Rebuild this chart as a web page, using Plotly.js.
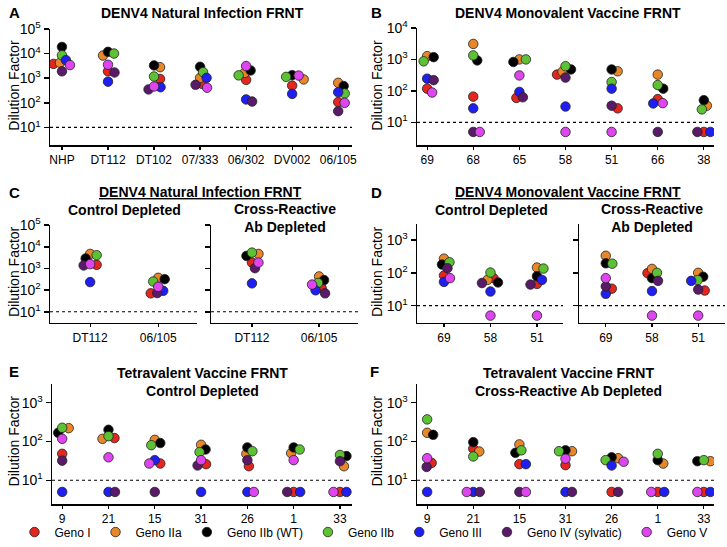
<!DOCTYPE html>
<html><head><meta charset="utf-8">
<script src="https://cdn.plot.ly/plotly-3.0.1.min.js"></script>
<style>html,body{margin:0;padding:0;background:#fff}</style>
</head><body><div id="chart" style="width:727px;height:547px"></div>
<script>
// ---------- DATA ----------
const genotypes = ['Geno I','Geno IIa','Geno IIb (WT)','Geno IIb','Geno III','Geno IV (sylvatic)','Geno V'];

const catsA = ['NHP','DT112','DT102','07/333','06/302','DV002','06/105'];
const valsA = [
  [3800, 1900, 930, 590, 850, 500, 107],
  [4200, 8300, 2800, 1030, 1650, 890, 650],
  [18600, 11700, 3300, 2900, 2050, 1330, 480],
  [8500, 10000, 1170, 1750, 1300, 1130, 240],
  [5400, 720, 430, 1030, 137, 230, 270],
  [1900, 1700, 350, 540, 113, null, 46],
  [3400, 3500, 460, 410, 3100, 1280, 100]
];

const catsB = ['69','68','65','58','51','66','38'];
const valsB = [
  [118, 66, 60, 330, 28, 55, 5],
  [1270, 3100, 1000, 410, 420, 330, 34],
  [1180, 930, 830, 480, 480, 118, 51],
  [870, 1340, 1000, 610, 192, 154, 26],
  [245, 28, 93, 32, 118, 40, 5],
  [220, 5, 63, 265, 34, 5, 5],
  [89, 5, 310, 5, 5, 41, null]
];

const catsC = ['DT112','06/105'];
const valsCControl = [
  [1480, 71], [4700, 370], [2900, 320], [4100, 250], [235, 93], [1380, 73], [1590, 142]
];
const valsCCross = [
  [1870, 125], [4700, 430], [3800, 290], [5400, 215], [205, 98], [1030, 71], [1870, 180]
];

const catsD = ['69','58','51'];
const valsDControl = [
  [83, 69, 46], [270, 61, 145], [178, 51, 79], [210, 102, 135], [53, 27, 61], [138, 49, 44], [69, 5, 5]
];
const valsDCross = [
  [33, 98, 29], [330, 132, 100], [195, 69, 76], [190, 100, 60], [23, 28, 57], [39, 57, 31], [69, 5, 5]
];

const catsE = ['9','21','15','31','26','1','33'];
const valsE = [
  [48, 122, 27, 26, 23, 5, 5],
  [220, 117, 110, 82, 48, 50, 23],
  [167, 200, 91, 62, 70, 70, 42],
  [225, 137, 80, 53, 56, 62, 45],
  [5, 5, 33, 5, 5, 5, 5],
  [32, 5, 5, 24, 33, 5, 31],
  [117, 39, 27, 33, 5, 33, 5]
];

const catsF = ['9','21','15','31','26','1','33'];
const valsF = [
  [28, 65, 26, 24.5, 5, 5, 5],
  [167, 55, 84, 56, 37, 27, 31],
  [148, 96, 51, 59, 39, 33, 31],
  [370, 41, 59, 56, 33, 48, 33],
  [5, 5, 26, 5, 24, 5, 5],
  [22, 5, 5, 5, 5, null, null],
  [37, 5, 5, 36, 30, 5, 5]
];

const detectionLimit = 10;

// ---------- STYLE / LAYOUT ----------
const genoColors = ['#E3261E','#E8872A','#000000','#5CC234','#1F1FF2','#5A1A6A','#DF45EE'];
const W = 727, H = 547;
const FONT = 'Liberation Sans, Arial, Helvetica, sans-serif';

const panels = [
  {cats:catsA, vals:valsA, px:[50,352], py:[29,146], xr:[-0.26,6.3], yr:[0.27,5], dec:[1,2,3,4,5], lab:true},
  {cats:catsB, vals:valsB, px:[417,714], py:[28,146], xr:[-0.22,6.22], yr:[0.27,4], dec:[1,2,3,4], lab:true},
  {cats:catsC, vals:valsCControl, px:[50,197], py:[226,324], xr:[-0.59,1.57], yr:[0.49,5], dec:[1,2,3,4,5], lab:true},
  {cats:catsC, vals:valsCCross, px:[211,358], py:[226,324], xr:[-0.61,1.58], yr:[0.49,5], dec:[1,2,3,4,5], lab:false},
  {cats:catsD, vals:valsDControl, px:[417,563], py:[225,324], xr:[-0.58,2.56], yr:[0.48,3.48], dec:[1,2,3], lab:true},
  {cats:catsD, vals:valsDCross, px:[579,725], py:[225,324], xr:[-0.58,2.58], yr:[0.48,3.48], dec:[1,2,3], lab:false},
  {cats:catsE, vals:valsE, px:[52,352], py:[385,506], xr:[-0.22,6.26], yr:[0.385,3.49], dec:[1,2,3], lab:true},
  {cats:catsF, vals:valsF, px:[417,714], py:[385,506], xr:[-0.22,6.22], yr:[0.385,3.49], dec:[1,2,3], lab:true}
];

// beeswarm-style horizontal spreading (in pixel space, converted to category units)
function swarm(p, minDist) {
  const wpx = p.px[1]-p.px[0], hpx = p.py[1]-p.py[0];
  const pxPerCat = wpx/(p.xr[1]-p.xr[0]);
  const pxPerDec = hpx/(p.yr[1]-p.yr[0]);
  const off = p.vals.map(r => r.map(() => 0));
  const nC = p.cats.length;
  for (let c = 0; c < nC; c++) {
    const pts = [];
    p.vals.forEach((row, g) => { if (row[c] != null) pts.push({g, y: Math.log10(row[c])*pxPerDec}); });
    pts.sort((a,b) => b.y - a.y);
    const placed = [];
    for (const pt of pts) {
      let dx = 0;
      for (let k = 0; k < 400; k++) {
        const cand = (k % 2 === 1 ? 1 : -1) * Math.ceil(k/2) * 0.5;
        const ok = placed.every(q => Math.hypot(q.x - cand, q.y - pt.y) >= minDist);
        if (ok) { dx = cand; break; }
      }
      placed.push({x: dx, y: pt.y});
      off[pt.g][c] = dx / pxPerCat;
    }
  }
  return off;
}

const traces = [];
const layout = {
  width: W, height: H,
  margin: {l:0, r:0, t:0, b:0},
  paper_bgcolor: '#fff', plot_bgcolor: 'rgba(0,0,0,0)',
  font: {family: FONT, color: '#000', size: 12},
  showlegend: true,
  legend: {orientation:'h', x:0.5, xanchor:'center', y:1-534/H, yanchor:'middle',
           bgcolor:'rgba(0,0,0,0)', font:{family:FONT, size:12, color:'#000'}, itemwidth:30, tracegroupgap:0},
  annotations: []
};

panels.forEach((p, i) => {
  const n = i === 0 ? '' : String(i+1);
  const xa = 'x'+n, ya = 'y'+n;
  layout['xaxis'+n] = {
    domain: [p.px[0]/W, p.px[1]/W], range: p.xr, anchor: ya,
    showline: true, linecolor: '#000', linewidth: 1.5, showgrid: false, zeroline: false,
    ticks: 'outside', ticklen: 3, tickwidth: 1.2, tickcolor: '#000',
    tickvals: p.cats.map((_, j) => j), ticktext: p.cats,
    tickfont: {family: FONT, size: 12, color: '#000'}, fixedrange: true
  };
  layout['yaxis'+n] = {
    domain: [1 - p.py[1]/H, 1 - p.py[0]/H], type: 'log', range: p.yr, anchor: xa,
    showline: true, linecolor: '#000', linewidth: 1.5, showgrid: false, zeroline: false,
    ticks: 'outside', ticklen: 5, tickwidth: 1.5, tickcolor: '#000',
    tickvals: p.dec.map(k => Math.pow(10, k)), ticktext: p.dec.map(k => '10<sup>'+k+'</sup>'),
    showticklabels: p.lab,
    tickfont: {family: FONT, size: 14, color: '#000'}, fixedrange: true
  };
  // detection limit dotted line
  traces.push({x: p.xr, y: [detectionLimit, detectionLimit], xaxis: xa, yaxis: ya, mode: 'lines',
    line: {color: '#000', width: 1.2, dash: 'dot'}, showlegend: false, hoverinfo: 'skip'});
  const off = swarm(p, 6.2);
  p.vals.forEach((row, g) => {
    const xs = [], ys = [];
    row.forEach((v, c) => { if (v != null) { xs.push(c + off[g][c]); ys.push(v); } });
    traces.push({x: xs, y: ys, xaxis: xa, yaxis: ya, mode: 'markers', type: 'scatter',
      name: genotypes[g], legendgroup: genotypes[g], showlegend: i === 0,
      marker: {color: genoColors[g], size: 9.5, line: {color: '#222', width: 0.8}}});
  });
});

function ann(text, x, y, size, opts) {
  layout.annotations.push(Object.assign({text, x: x/W, y: 1 - y/H, xref: 'paper', yref: 'paper',
    showarrow: false, xanchor: 'center', yanchor: 'middle',
    font: {family: FONT, size: size, color: '#000'}}, opts || {}));
}
// panel letters
[['A',7,13],['B',369,13],['C',7,193],['D',369,193],['E',7,373],['F',368,373]].forEach(a =>
  ann('<b>'+a[0]+'</b>', a[1], a[2], 15, {xanchor:'left'}));
// titles
const TS = 14;
ann('<b>DENV4 Natural Infection FRNT</b>', 203, 13, TS);
ann('<b>DENV4 Monovalent Vaccine FRNT</b>', 568, 13, TS);
ann('<b><u>DENV4 Natural Infection FRNT</u></b>', 200, 193, TS);
ann('<b>Control Depleted</b>', 124, 211, TS);
ann('<b>Cross-Reactive<br>Ab Depleted</b>', 285, 219, TS);
ann('<b><u>DENV4 Monovalent Vaccine FRNT</u></b>', 568, 193, TS);
ann('<b>Control Depleted</b>', 491, 211, TS);
ann('<b>Cross-Reactive<br>Ab Depleted</b>', 652, 219, TS);
ann('<b>Tetravalent Vaccine FRNT<br>Control Depleted</b>', 202, 383, TS);
ann('<b>Tetravalent Vaccine FRNT<br>Cross-Reactive Ab Depleted</b>', 568, 383, TS);
// y axis titles
[[14,86],[377,86],[14,273],[377,273],[14,443],[377,443]].forEach(a =>
  ann('Dilution Factor', a[0], a[1], 14, {textangle: -90}));

Plotly.newPlot('chart', traces, layout, {displayModeBar: false, staticPlot: true});
</script></body></html>
